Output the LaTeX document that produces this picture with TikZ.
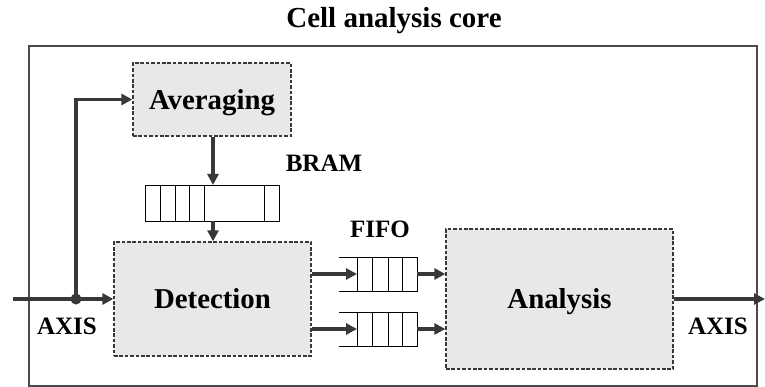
\documentclass[tikz,border=0pt]{standalone}
\usepackage{fontspec}
\setmainfont{Liberation Serif}
\usetikzlibrary{arrows.meta}
\definecolor{wire}{HTML}{383838}
\definecolor{blockfill}{HTML}{E8E8E8}
\definecolor{framecol}{HTML}{4A4A4A}
\tikzset{
  blockbox/.style={draw=wire, line width=1.3pt, dash pattern=on 3.6pt off 1.8pt,
    fill=blockfill, inner sep=0pt, text depth=0pt,
    font=\fontsize{28.8}{30}\selectfont\bfseries},
  label/.style={inner sep=0pt, anchor=base, font=\fontsize{25}{27}\selectfont\bfseries},
  wirearrow/.style={draw=wire, line width=3.4pt,
    -{Triangle[length=11pt,width=11pt]}},
  cell/.style={draw=black, line width=0.9pt, fill=white},
  queueline/.style={draw=black, line width=0.9pt}
}
\begin{document}
\begin{tikzpicture}[x=1pt,y=-1pt]
\useasboundingbox (0,0) rectangle (765,387);

% outer frame and title
\draw[framecol, line width=1.7pt] (29,46) rectangle (757,386);
\node[label, font=\fontsize{29}{31}\selectfont\bfseries] (title) at (394,28) {Cell analysis core};

% processing blocks
\node[blockbox, minimum width=158pt, minimum height=73pt] (avg) at (212,99.5) {Averaging};
\node[blockbox, minimum width=197pt, minimum height=114pt] (det) at (212.5,299) {Detection};
\node[blockbox, minimum width=227pt, minimum height=140pt] (ana) at (559.5,299) {Analysis};

% BRAM buffer
\draw[cell] (145,185) rectangle (279,221);
\foreach \xx in {160,175,189,204,264} \draw[queueline] (\xx,185) -- (\xx,221);
\coordinate (bramtop) at (213,185);
\coordinate (brambot) at (213,221);
\node[label] (bramlbl) at (324,172) {BRAM};

% FIFO buffers
\foreach \yy in {274,329}{
  \draw[queueline] (339,\yy-17) -- (357,\yy-17);
  \draw[queueline] (339,\yy+17) -- (357,\yy+17);
  \draw[cell] (357,\yy-17) rectangle (417,\yy+17);
  \foreach \xx in {372,388,402} \draw[queueline] (\xx,\yy-17) -- (\xx,\yy+17);
}
\coordinate (fifoAin) at (357,274);
\coordinate (fifoAout) at (417,274);
\coordinate (fifoBin) at (357,329);
\coordinate (fifoBout) at (417,329);
\node[label] (fifolbl) at (380,238) {FIFO};

% stream connections
\coordinate (src) at (13,299);
\coordinate (split) at (76,299);
\coordinate (sink) at (765,299);
\draw[wirearrow] (src) -- (det.west);
\draw[wirearrow] (split) |- (avg.west);
\fill[wire] (split) circle (5.5pt);
\draw[wirearrow] (avg.south -| bramtop) -- (bramtop);
\draw[wirearrow] (brambot) -- (brambot |- det.north);
\draw[wirearrow] (det.east |- fifoAin) -- (fifoAin);
\draw[wirearrow] (det.east |- fifoBin) -- (fifoBin);
\draw[wirearrow] (fifoAout) -- (fifoAout -| ana.west);
\draw[wirearrow] (fifoBout) -- (fifoBout -| ana.west);
\draw[wirearrow] (ana.east) -- (sink);

% interface labels
\node[label] (axisin) at (67,334) {AXIS};
\node[label] (axisout) at (718,334) {AXIS};
\end{tikzpicture}
\end{document}
